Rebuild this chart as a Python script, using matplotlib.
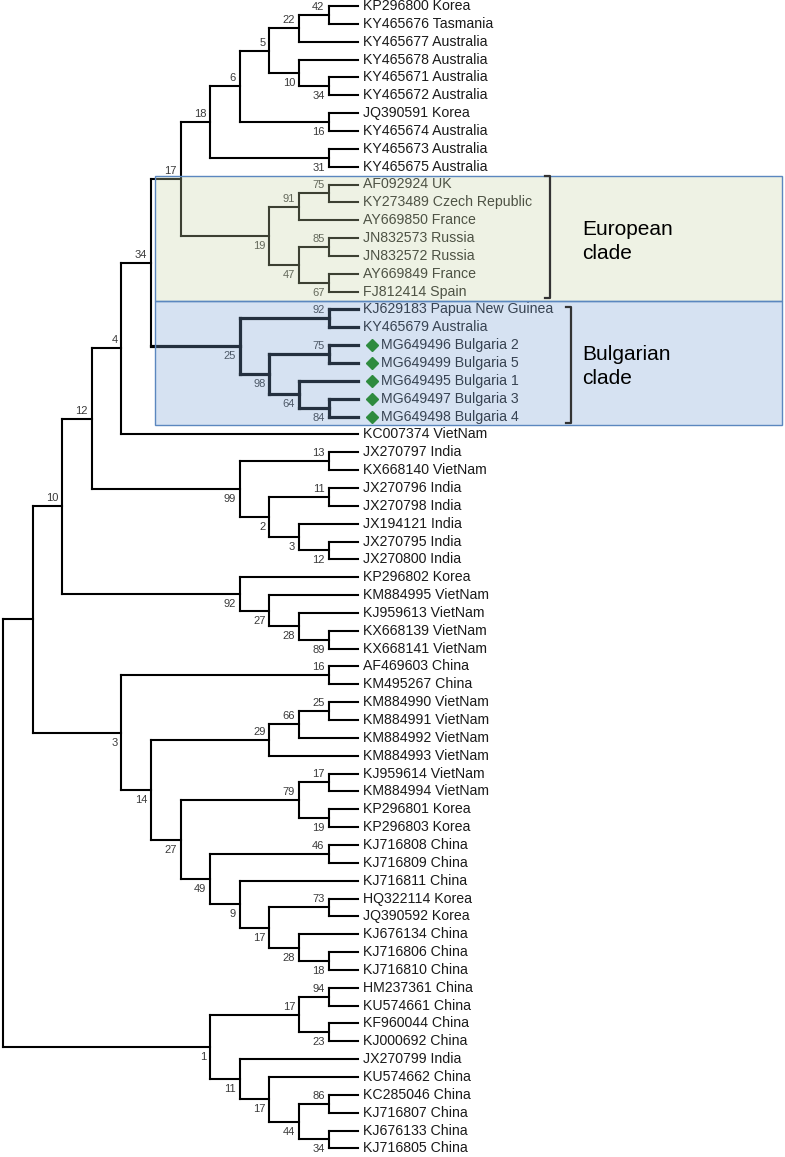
import matplotlib
matplotlib.use("Agg")
import matplotlib.pyplot as plt
from matplotlib.collections import LineCollection
from matplotlib.patches import Rectangle
from matplotlib.transforms import ScaledTranslation

plt.rcParams['font.family'] = ['Liberation Sans', 'DejaVu Sans']

# tree topology: (node id, bootstrap support, children); leaves are plain names
nodes = [
    ("a1", 42, ["KP296800 Korea", "KY465676 Tasmania"]),
    ("a2", 22, ["a1", "KY465677 Australia"]),
    ("a3", 34, ["KY465671 Australia", "KY465672 Australia"]),
    ("a4", 10, ["KY465678 Australia", "a3"]),
    ("a5", 5, ["a2", "a4"]),
    ("a6", 16, ["JQ390591 Korea", "KY465674 Australia"]),
    ("a7", 6, ["a5", "a6"]),
    ("a8", 31, ["KY465673 Australia", "KY465675 Australia"]),
    ("a9", 18, ["a7", "a8"]),
    ("e1", 75, ["AF092924 UK", "KY273489 Czech Republic"]),
    ("e2", 91, ["e1", "AY669850 France"]),
    ("e3", 85, ["JN832573 Russia", "JN832572 Russia"]),
    ("e4", 67, ["AY669849 France", "FJ812414 Spain"]),
    ("e5", 47, ["e3", "e4"]),
    ("e6", 19, ["e2", "e5"]),
    ("a10", 17, ["a9", "e6"]),
    ("b1", 92, ["KJ629183 Papua New Guinea", "KY465679 Australia"]),
    ("b2", 75, ["MG649496 Bulgaria 2", "MG649499 Bulgaria 5"]),
    ("b3", 84, ["MG649497 Bulgaria 3", "MG649498 Bulgaria 4"]),
    ("b4", 64, ["MG649495 Bulgaria 1", "b3"]),
    ("b5", 98, ["b2", "b4"]),
    ("b6", 25, ["b1", "b5"]),
    ("c1", 34, ["a10", "b6"]),
    ("c2", 4, ["c1", "KC007374 VietNam"]),
    ("i1", 13, ["JX270797 India", "KX668140 VietNam"]),
    ("i2", 11, ["JX270796 India", "JX270798 India"]),
    ("i3", 12, ["JX270795 India", "JX270800 India"]),
    ("i4", 3, ["JX194121 India", "i3"]),
    ("i5", 2, ["i2", "i4"]),
    ("i6", 99, ["i1", "i5"]),
    ("c3", 12, ["c2", "i6"]),
    ("v1", 89, ["KX668139 VietNam", "KX668141 VietNam"]),
    ("v2", 28, ["KJ959613 VietNam", "v1"]),
    ("v3", 27, ["KM884995 VietNam", "v2"]),
    ("v4", 92, ["KP296802 Korea", "v3"]),
    ("c4", 10, ["c3", "v4"]),
    ("d1", 16, ["AF469603 China", "KM495267 China"]),
    ("d2", 25, ["KM884990 VietNam", "KM884991 VietNam"]),
    ("d3", 66, ["d2", "KM884992 VietNam"]),
    ("d4", 29, ["d3", "KM884993 VietNam"]),
    ("d5", 17, ["KJ959614 VietNam", "KM884994 VietNam"]),
    ("d6", 19, ["KP296801 Korea", "KP296803 Korea"]),
    ("d7", 79, ["d5", "d6"]),
    ("d8", 46, ["KJ716808 China", "KJ716809 China"]),
    ("d9", 73, ["HQ322114 Korea", "JQ390592 Korea"]),
    ("d10", 18, ["KJ716806 China", "KJ716810 China"]),
    ("d11", 28, ["KJ676134 China", "d10"]),
    ("d12", 17, ["d9", "d11"]),
    ("d13", 9, ["KJ716811 China", "d12"]),
    ("d14", 49, ["d8", "d13"]),
    ("d15", 27, ["d7", "d14"]),
    ("d16", 14, ["d4", "d15"]),
    ("d17", 3, ["d1", "d16"]),
    ("c5", None, ["c4", "d17"]),
    ("f1", 94, ["HM237361 China", "KU574661 China"]),
    ("f2", 23, ["KF960044 China", "KJ000692 China"]),
    ("f3", 17, ["f1", "f2"]),
    ("f4", 86, ["KC285046 China", "KJ716807 China"]),
    ("f5", 34, ["KJ676133 China", "KJ716805 China"]),
    ("f6", 44, ["f4", "f5"]),
    ("f7", 17, ["KU574662 China", "f6"]),
    ("f8", 11, ["JX270799 India", "f7"]),
    ("f9", 1, ["f3", "f8"]),
    ("root", None, ["c5", "f9"]),
]

bulgarian_nodes = ["b1", "b2", "b3", "b4", "b5", "b6"]
marked_leaves = ["MG649496 Bulgaria 2", "MG649499 Bulgaria 5", "MG649495 Bulgaria 1",
                 "MG649497 Bulgaria 3", "MG649498 Bulgaria 4"]
european_rows = (10, 16)
bulgarian_rows = (17, 23)

children = {n: ch for n, s, ch in nodes}
parent = {c: n for n, s, ch in nodes for c in ch}

# leaf order and layout (cladogram: x by node height, y by leaf order)
leaves = []
def collect(n):
    if n in children:
        for c in children[n]:
            collect(c)
    else:
        leaves.append(n)
collect("root")

height = {}
def get_height(n):
    if n not in children:
        height[n] = 0
    else:
        height[n] = 1 + max(get_height(c) for c in children[n])
    return height[n]
get_height("root")
top = height["root"]

xpos = {n: top - h for n, h in height.items()}
ypos = {leaf: i for i, leaf in enumerate(leaves)}
def get_y(n):
    if n in children:
        ys = [get_y(c) for c in children[n]]
        ypos[n] = (ys[0] + ys[-1]) / 2
    return ypos[n]
get_y("root")

# scale: 29.6 px per level, 17.85 px per row
PX, PY, X0, Y0 = 29.6, 17.85, 3, 6
fig = plt.figure(figsize=(7.85, 11.57), dpi=100)
ax = fig.add_axes([0, 0, 1, 1])
ax.set_xlim(-X0 / PX, (785 - X0) / PX)
ax.set_ylim((1157 - Y0) / PY, -Y0 / PY)
ax.axis('off')

thin, thick = [], []
for n, s, ch in nodes:
    group = thick if n in bulgarian_nodes else thin
    group.append([(xpos[n], ypos[ch[0]]), (xpos[n], ypos[ch[-1]])])
    for c in ch:
        seg = [(xpos[n], ypos[c]), (xpos[c], ypos[c])]
        (thick if (n in bulgarian_nodes or c in bulgarian_nodes) else thin).append(seg)

ax.add_collection(LineCollection(thin, colors='black', linewidths=1.5, capstyle='projecting', zorder=2))
ax.add_collection(LineCollection(thick, colors='black', linewidths=2.3, capstyle='projecting', zorder=2))

# bootstrap values
for n, s, ch in nodes:
    if s is None or n == "root":
        continue
    above = children[parent[n]][0] == n
    ax.annotate(str(s), (xpos[n], ypos[n]), xytext=(-4, 8 if above else -10),
                textcoords='offset pixels', ha='right', va='center',
                fontsize=8, color='#3a3a3a', zorder=3)

# leaf labels, with green diamonds for the Bulgarian isolates
shift = ax.transData + ScaledTranslation(14 / 100, 0, fig.dpi_scale_trans)
mx = [top for leaf in leaves if leaf in marked_leaves]
my = [ypos[leaf] for leaf in leaves if leaf in marked_leaves]
ax.plot(mx, my, marker='D', markersize=6.5, color='#2e8b3e', linestyle='none',
        transform=shift, zorder=7)
for leaf in leaves:
    dx = 23 if leaf in marked_leaves else 5
    ax.annotate(leaf, (top, ypos[leaf]), xytext=(dx, 0), textcoords='offset pixels',
                ha='left', va='center', fontsize=10.2, color='#1a1a1a', zorder=3)

# clade boxes (semi-transparent overlay)
box_left = xpos["c1"] + 4 / PX
box_right = (782 - X0) / PX
for (r0, r1), face in [(european_rows, (0.78, 0.84, 0.66)), (bulgarian_rows, (0.48, 0.63, 0.83))]:
    ax.add_patch(Rectangle((box_left, r0 - 0.5), box_right - box_left, r1 - r0 + 1,
                           facecolor=face, alpha=0.3, edgecolor='none', zorder=5))
    ax.add_patch(Rectangle((box_left, r0 - 0.5), box_right - box_left, r1 - r0 + 1,
                           facecolor='none', edgecolor='#5b87bf', linewidth=1.0, zorder=6))

# brackets and clade names
tick = 5 / PX
for (r0, r1), bx, ya, name in [(european_rows, (550 - X0) / PX, european_rows[0] - 0.45, "European\nclade"),
                               (bulgarian_rows, (571 - X0) / PX, bulgarian_rows[0] - 0.15, "Bulgarian\nclade")]:
    yb = r1 + 0.35
    ax.plot([bx - tick, bx, bx, bx - tick], [ya, ya, yb, yb], color='#333333', lw=1.6, zorder=7)
    ax.text((582 - X0) / PX, (r0 + r1) / 2 + 0.2, name, ha='left', va='center',
            fontsize=15, color='black', linespacing=1.35, zorder=7)

fig.savefig('out.png', dpi=100)
